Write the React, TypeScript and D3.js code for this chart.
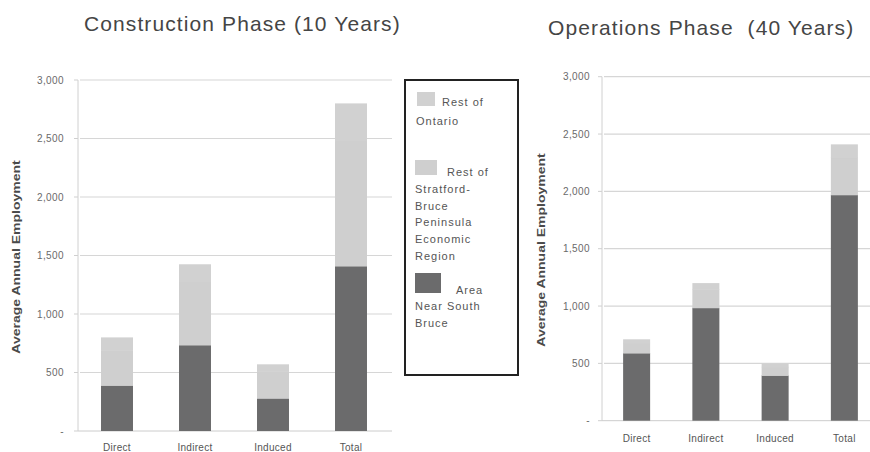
import React from "react";
import * as d3 from "d3";

const categories = ["Direct", "Indirect", "Induced", "Total"];
const seriesNames = ["Area Near South Bruce", "Rest of Stratford-Bruce Peninsula Economic Region", "Rest of Ontario"];

// Construction phase (10 years)
const conArea = [390, 735, 280, 1410];
const conStratford = [300, 540, 230, 1070];
const conOntario = [110, 150, 60, 320];

// Operations phase (40 years)
const opsArea = [590, 985, 395, 1970];
const opsStratford = [90, 160, 75, 325];
const opsOntario = [30, 55, 30, 115];

const yTicks = [0, 500, 1000, 1500, 2000, 2500, 3000];
const colors = ["#6b6b6c", "#cfcfcf", "#d1d1d1"];

const fmt = (v: number) => (v === 0 ? "-" : d3.format(",")(v));

type PanelProps = {
  title: string;
  titleX: number;
  titleY: number;
  left: number;
  right: number;
  gridRight: number;
  top: number;
  bottom: number;
  pad: number;
  area: number[];
  strat: number[];
  ont: number[];
  tickX: number;
  labelX: number;
  labelCY: number;
  catY: number;
};

function Panel(p: PanelProps) {
  const y = d3.scaleLinear().domain([0, 3000]).range([p.bottom, p.top]);
  const x = d3
    .scaleBand<string>()
    .domain(categories)
    .range([p.left, p.right])
    .paddingInner(p.pad)
    .paddingOuter(p.pad / 2);
  const rows = categories.map((c, i) => ({ c, a: p.area[i], s: p.strat[i], o: p.ont[i] }));
  const stack = d3.stack<any>().keys(["a", "s", "o"])(rows);
  return (
    <g>
      <text
        x={p.titleX}
        y={p.titleY}
        fontSize={21}
        fill="#454545"
        letterSpacing={1.1}
        style={{ whiteSpace: "pre" }}
        fontFamily="Liberation Sans, Arial, sans-serif"
      >
        {p.title}
      </text>
      {yTicks.map((t) => (
        <g key={t}>
          {t > 0 && (
            <line x1={p.left + 2} x2={p.gridRight} y1={y(t)} y2={y(t)} stroke="#d6d6d6" strokeWidth={1.2} />
          )}
          <line x1={p.left - 4} x2={p.left} y1={y(t)} y2={y(t)} stroke="#cfcfcf" />
          <text
            x={p.tickX}
            y={y(t)}
            dy="0.35em"
            textAnchor="end"
            fontSize={10}
            letterSpacing={0.4}
            fill="#6a6a6a"
            fontFamily="Liberation Sans, Arial, sans-serif"
          >
            {fmt(t)}
          </text>
        </g>
      ))}
      <line x1={p.left} x2={p.left} y1={y(3000)} y2={y(0)} stroke="#d0d0d0" />
      <line x1={p.left} x2={p.gridRight} y1={y(0)} y2={y(0)} stroke="#cccccc" />
      {stack.map((layer, li) =>
        layer.map((d, i) => (
          <rect
            key={li + "-" + i}
            x={x(categories[i])}
            width={x.bandwidth()}
            y={y(d[1])}
            height={y(d[0]) - y(d[1]) + (li > 0 ? 0.5 : 0)}
            fill={colors[li]}
          />
        ))
      )}
      {categories.map((c) => (
        <text
          key={c}
          x={(x(c) as number) + x.bandwidth() / 2}
          y={p.catY}
          dy="0.35em"
          textAnchor="middle"
          fontSize={10}
          letterSpacing={0.3}
          fill="#555"
          fontFamily="Liberation Sans, Arial, sans-serif"
        >
          {c}
        </text>
      ))}
      <text
        transform={`translate(${p.labelX},${p.labelCY}) rotate(-90) scale(1.4,1)`}
        textAnchor="middle"
        dy="0.35em"
        fontSize={10}
        fontWeight="bold"
        fill="#4a4a4a"
        fontFamily="Liberation Sans, Arial, sans-serif"
      >
        Average Annual Employment
      </text>
    </g>
  );
}

const legendLines = [
  { t: "Rest of", x: 442, y: 102 },
  { t: "Ontario", x: 416, y: 121 },
  { t: "Rest of", x: 447, y: 172.5 },
  { t: "Stratford-", x: 415, y: 189 },
  { t: "Bruce", x: 415, y: 205.7 },
  { t: "Peninsula", x: 415, y: 222.5 },
  { t: "Economic", x: 415, y: 239.3 },
  { t: "Region", x: 415, y: 256 },
  { t: "Area", x: 456, y: 290 },
  { t: "Near South", x: 415, y: 306 },
  { t: "Bruce", x: 415, y: 323 },
];

export default function App() {
  return (
    <svg
      width={870}
      height={452}
      style={{ position: "absolute", left: 0, top: 0, background: "#fff" }}
    >
      <rect width={870} height={452} fill="#fff" />
      <Panel
        title="Construction Phase (10 Years)"
        titleX={84}
        titleY={31}
        left={78}
        right={390}
        gridRight={392}
        top={80}
        bottom={431}
        pad={0.59}
        area={conArea}
        strat={conStratford}
        ont={conOntario}
        tickX={64}
        labelX={16}
        labelCY={257}
        catY={447}
      />
      <Panel
        title={"Operations Phase  (40 Years)"}
        titleX={548}
        titleY={35}
        left={602}
        right={879}
        gridRight={870}
        top={76.7}
        bottom={420.7}
        pad={0.61}
        area={opsArea}
        strat={opsStratford}
        ont={opsOntario}
        tickX={590}
        labelX={541}
        labelCY={250}
        catY={438}
      />
      <g>
        <rect x={405} y={80} width={113} height={295} fill="#fff" stroke="#222" strokeWidth={2} />
        <rect x={417} y={92} width={18} height={14} fill={colors[2]} />
        <rect x={415} y={160} width={22} height={15} fill={colors[1]} />
        <rect x={415} y={273} width={26} height={20} fill={colors[0]} />
        {legendLines.map((l, i) => (
          <text
            key={i}
            x={l.x}
            y={l.y}
            dy="0.35em"
            fontSize={11}
            letterSpacing={1}
            fill="#555"
            fontFamily="Liberation Sans, Arial, sans-serif"
          >
            {l.t}
          </text>
        ))}
      </g>
    </svg>
  );
}
